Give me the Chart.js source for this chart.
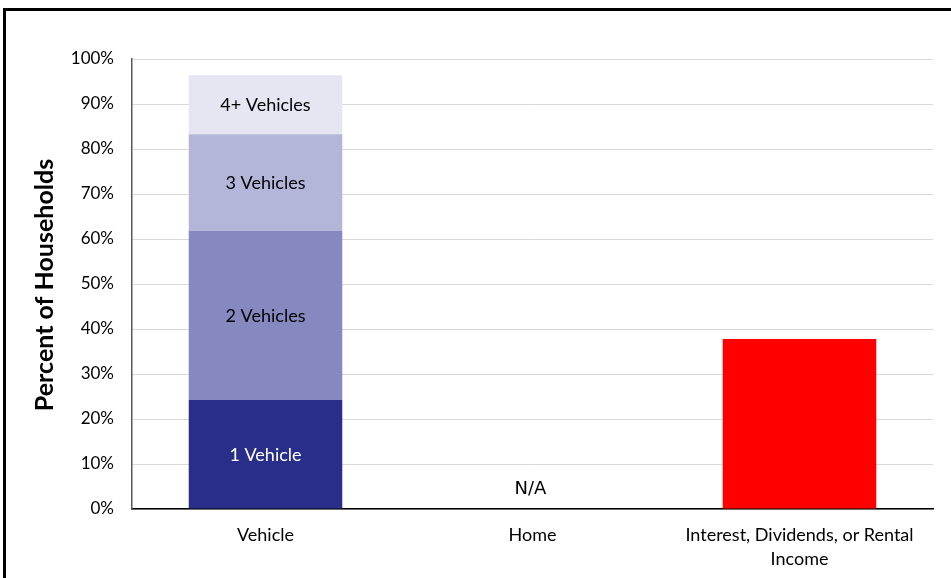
<!DOCTYPE html>
<html>
<head>
<meta charset="utf-8">
<script src="https://cdn.jsdelivr.net/npm/chart.js@4.4.1/dist/chart.umd.min.js"></script>
<style>
  body { margin: 0; background: #fff; overflow: hidden; }
  #wrap { position: relative; width: 951px; height: 578px; overflow: hidden; }
  #frame { position: absolute; left: 3px; top: 8px; width: 1000px; height: 1000px; border: 3px solid #000; }
  canvas { position: absolute; left: 0; top: 0; }
</style>
</head>
<body>
<div id="wrap">
  <div id="frame"></div>
  <canvas id="assetChart" width="951" height="578"></canvas>
</div>
<script>
// categorias y valores (porcentaje de hogares)
const categories = ['Vehicle', 'Home', ['Interest, Dividends, or Rental', 'Income']];
const oneVehicle = [24.2, null, null];
const twoVehicles = [37.6, null, null];
const threeVehicles = [21.5, null, null];
const fourPlusVehicles = [13.1, null, null];
const investmentIncome = [null, null, 37.8];
const yTicks = [0, 10, 20, 30, 40, 50, 60, 70, 80, 90, 100];
const naLabel = 'N/A';

const FONT = 'Lato, "Noto Sans", sans-serif';

// etiquetas dentro de las barras, N/A y titulo del eje
const labelPlugin = {
    id: 'labelPlugin',
    afterDatasetsDraw(chart) {
        const ctx = chart.ctx;
        ctx.save();
        ctx.textAlign = 'center';
        ctx.textBaseline = 'middle';
        ctx.font = '18px ' + FONT;
        chart.data.datasets.forEach((ds, i) => {
            if (!ds.inside) return;
            const meta = chart.getDatasetMeta(i);
            const bar = meta.data[0];
            ctx.fillStyle = ds.textColor;
            ctx.fillText(ds.label, bar.x, (bar.y + bar.base) / 2 + 1);
        });
        const x = chart.scales.x;
        const y = chart.scales.y;
        ctx.font = '18px "DejaVu Sans", sans-serif';
        ctx.fillStyle = '#000';
        ctx.fillText(naLabel, x.getPixelForValue(1) - 2, y.getPixelForValue(0) - 20);

        ctx.translate(45, 285);
        ctx.rotate(-Math.PI / 2);
        ctx.font = 'bold 25px ' + FONT;
        ctx.fillText('Percent of Households', 0, 0);
        ctx.restore();
    }
};

const barOpts = { barPercentage: 0.575, categoryPercentage: 1, borderWidth: 0 };

new Chart(document.getElementById('assetChart'), {
    type: 'bar',
    data: {
        labels: categories,
        datasets: [
            { label: '1 Vehicle', data: oneVehicle, backgroundColor: '#282E8A', textColor: '#fff', inside: true, ...barOpts },
            { label: '2 Vehicles', data: twoVehicles, backgroundColor: '#8689BF', textColor: '#000', inside: true, ...barOpts },
            { label: '3 Vehicles', data: threeVehicles, backgroundColor: '#B3B6D8', textColor: '#000', inside: true, ...barOpts },
            { label: '4+ Vehicles', data: fourPlusVehicles, backgroundColor: '#E6E6F2', textColor: '#000', inside: true, ...barOpts },
            { label: 'Income', data: investmentIncome, backgroundColor: '#FF0000', inside: false, ...barOpts }
        ]
    },
    options: {
        responsive: false,
        animation: false,
        layout: { padding: { top: 59, right: 18, bottom: 0, left: 0 } },
        plugins: { legend: { display: false }, tooltip: { enabled: false } },
        scales: {
            x: {
                stacked: true,
                grid: { display: false, drawTicks: false },
                border: { color: '#000', width: 1.5 },
                ticks: { color: '#000', font: { family: FONT, size: 18, lineHeight: 1.35 }, padding: 14 },
                afterFit(scale) { scale.height = 69; }
            },
            y: {
                stacked: true,
                min: 0,
                max: 100,
                afterBuildTicks(scale) { scale.ticks = yTicks.map(v => ({ value: v })); },
                grid: { color: '#D9D9D9', lineWidth: 1, drawTicks: false },
                border: { color: '#595959', width: 1.5 },
                ticks: {
                    color: '#000',
                    font: { family: FONT, size: 17 },
                    padding: 18,
                    callback: v => v + '%'
                },
                afterFit(scale) { scale.width = 132; }
            }
        }
    },
    plugins: [labelPlugin]
});
</script>
</body>
</html>
